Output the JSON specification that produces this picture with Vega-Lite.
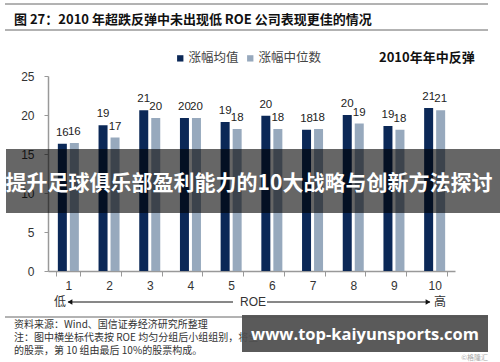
{
  "$schema": "https://vega.github.io/schema/vega-lite/v6.json",
  "width": 407,
  "height": 195,
  "autosize": {"type": "none"},
  "padding": {"left": 48, "top": 76, "right": 45, "bottom": 91},
  "background": "white",
  "config": {"view": {"stroke": null}, "font": "Liberation Sans"},
  "title": {
    "text": "图 27：2010 年超跌反弹中未出现低 ROE 公司表现更佳的情况",
    "anchor": "start",
    "frame": "group",
    "orient": "top",
    "dx": -34,
    "offset": -23,
    "fontSize": 13,
    "fontWeight": "bold",
    "font": "Noto Sans CJK SC",
    "color": "#111111"
  },
  "data": {
    "values": [
      {"group": 1, "series": "涨幅均值", "value": 16.3},
      {"group": 1, "series": "涨幅中位数", "value": 16.4},
      {"group": 2, "series": "涨幅均值", "value": 18.7},
      {"group": 2, "series": "涨幅中位数", "value": 17.1},
      {"group": 3, "series": "涨幅均值", "value": 20.6},
      {"group": 3, "series": "涨幅中位数", "value": 19.6},
      {"group": 4, "series": "涨幅均值", "value": 19.6},
      {"group": 4, "series": "涨幅中位数", "value": 19.6},
      {"group": 5, "series": "涨幅均值", "value": 19.1},
      {"group": 5, "series": "涨幅中位数", "value": 18.2},
      {"group": 6, "series": "涨幅均值", "value": 19.9},
      {"group": 6, "series": "涨幅中位数", "value": 18.2},
      {"group": 7, "series": "涨幅均值", "value": 18.1},
      {"group": 7, "series": "涨幅中位数", "value": 18.2},
      {"group": 8, "series": "涨幅均值", "value": 20.0},
      {"group": 8, "series": "涨幅中位数", "value": 18.9},
      {"group": 9, "series": "涨幅均值", "value": 18.6},
      {"group": 9, "series": "涨幅中位数", "value": 18.1},
      {"group": 10, "series": "涨幅均值", "value": 20.9},
      {"group": 10, "series": "涨幅中位数", "value": 20.6}
    ]
  },
  "layer": [
    {
      "encoding": {
        "x": {
          "field": "group",
          "type": "ordinal",
          "scale": {"paddingInner": 0.41, "paddingOuter": 0.205},
          "axis": {
            "title": null,
            "labelAngle": 0,
            "tickBand": "extent",
            "tickSize": 5,
            "tickColor": "#999999",
            "domainColor": "#999999",
            "domainWidth": 1.5,
            "labelFontSize": 12,
            "labelColor": "#333333",
            "labelPadding": 4
          }
        },
        "y": {
          "field": "value",
          "type": "quantitative",
          "scale": {"domain": [0, 25], "nice": false, "zero": true},
          "axis": {
            "title": null,
            "values": [0, 5, 10, 15, 20, 25],
            "tickCount": 6,
            "labelOverlap": false,
            "grid": false,
            "tickSize": 4,
            "tickColor": "#999999",
            "domainColor": "#999999",
            "domainWidth": 1.5,
            "labelFontSize": 12,
            "labelColor": "#333333",
            "labelPadding": 10
          }
        },
        "xOffset": {
          "field": "series",
          "type": "nominal",
          "scale": {"domain": ["涨幅均值", "涨幅中位数"], "paddingInner": 0, "paddingOuter": 0}
        }
      },
      "layer": [
        {
          "mark": {"type": "bar", "width": 9},
          "encoding": {
            "color": {
              "field": "series",
              "type": "nominal",
              "scale": {"domain": ["涨幅均值", "涨幅中位数"], "range": ["#0B2857", "#97A9BD"]},
              "legend": {
                "orient": "none",
                "legendX": 126,
                "legendY": -24,
                "direction": "horizontal",
                "title": "2010年年中反弹",
                "titleOrient": "right",
                "titleFont": "Noto Sans CJK SC",
                "titleFontSize": 13,
                "titleFontWeight": "bold",
                "titleColor": "#111111",
                "titlePadding": 58,
                "symbolType": "square",
                "symbolSize": 40,
                "symbolStrokeWidth": 0,
                "symbolOpacity": 1,
                "labelFont": "Noto Sans CJK SC",
                "labelFontSize": 12.5,
                "labelColor": "#444444",
                "labelOffset": 2,
                "columnPadding": 5
              }
            }
          }
        },
        {
          "mark": {"type": "text", "baseline": "bottom", "dy": -6, "fontSize": 11.5, "font": "Liberation Sans", "color": "#222222"},
          "encoding": {
            "text": {"field": "value", "type": "quantitative", "format": ".0f"}
          }
        }
      ]
    },
    {
      "data": {"values": [{}]},
      "mark": {"type": "rule", "color": "#666666", "strokeWidth": 1},
      "encoding": {"x": {"value": -43}, "x2": {"value": 440}, "y": {"value": -72}}
    },
    {
      "data": {"values": [{}]},
      "mark": {"type": "rule", "color": "#666666", "strokeWidth": 1},
      "encoding": {"x": {"value": -43}, "x2": {"value": 440}, "y": {"value": -46}}
    },
    {
      "data": {"values": [{}]},
      "mark": {"type": "rule", "color": "#666666", "strokeWidth": 1},
      "encoding": {"x": {"value": -43}, "x2": {"value": 440}, "y": {"value": 241}}
    },
    {
      "data": {"values": [{}]},
      "mark": {"type": "rule", "color": "#111111", "strokeWidth": 1},
      "encoding": {"x": {"value": 20}, "x2": {"value": 185}, "y": {"value": 226}}
    },
    {
      "data": {"values": [{}]},
      "mark": {"type": "rule", "color": "#111111", "strokeWidth": 1},
      "encoding": {"x": {"value": 219}, "x2": {"value": 382}, "y": {"value": 226}}
    },
    {
      "data": {"values": [{}]},
      "mark": {"type": "point", "shape": "triangle-left", "filled": true, "size": 30, "color": "#111111", "opacity": 1},
      "encoding": {"x": {"value": 22}, "y": {"value": 226}}
    },
    {
      "data": {"values": [{}]},
      "mark": {"type": "point", "shape": "triangle-right", "filled": true, "size": 30, "color": "#111111", "opacity": 1},
      "encoding": {"x": {"value": 380}, "y": {"value": 226}}
    },
    {
      "data": {"values": [{}]},
      "mark": {"type": "text", "text": "低", "font": "Noto Sans CJK SC", "fontSize": 12, "color": "#333333", "align": "center", "baseline": "middle"},
      "encoding": {"x": {"value": 12}, "y": {"value": 226}}
    },
    {
      "data": {"values": [{}]},
      "mark": {"type": "text", "text": "高", "font": "Noto Sans CJK SC", "fontSize": 12, "color": "#333333", "align": "center", "baseline": "middle"},
      "encoding": {"x": {"value": 392}, "y": {"value": 226}}
    },
    {
      "data": {"values": [{}]},
      "mark": {"type": "text", "text": "ROE", "font": "Liberation Sans", "fontSize": 12, "color": "#333333", "align": "center", "baseline": "middle"},
      "encoding": {"x": {"value": 205}, "y": {"value": 226}}
    },
    {
      "data": {"values": [{}]},
      "mark": {"type": "text", "text": "资料来源：Wind、国信证券经济研究所整理", "font": "Noto Sans CJK SC", "fontSize": 10, "color": "#333333", "align": "left", "baseline": "middle"},
      "encoding": {"x": {"value": -34}, "y": {"value": 249}}
    },
    {
      "data": {"values": [{}]},
      "mark": {"type": "text", "text": "注：图中横坐标代表按 ROE 均匀分组后小组组别，将全", "font": "Noto Sans CJK SC", "fontSize": 10, "color": "#333333", "align": "left", "baseline": "middle"},
      "encoding": {"x": {"value": -34}, "y": {"value": 262}}
    },
    {
      "data": {"values": [{}]},
      "mark": {"type": "text", "text": "的股票，第 10 组由最后 10%的股票构成。", "font": "Noto Sans CJK SC", "fontSize": 10, "color": "#333333", "align": "left", "baseline": "middle"},
      "encoding": {"x": {"value": -34}, "y": {"value": 275}}
    },
    {
      "data": {"values": [{}]},
      "mark": {"type": "text", "text": "©格隆汇", "font": "Noto Sans CJK SC", "fontSize": 7, "color": "#aaaaaa", "align": "right", "baseline": "middle"},
      "encoding": {"x": {"value": 440}, "y": {"value": 282}}
    },
    {
      "data": {"values": [{}]},
      "mark": {"type": "rect", "color": "#000000", "opacity": 0.6},
      "encoding": {"x": {"value": -42}, "x2": {"value": 460}, "y": {"value": 73}, "y2": {"value": 137}}
    },
    {
      "data": {"values": [{}]},
      "mark": {"type": "text", "text": "提升足球俱乐部盈利能力的10大战略与创新方法探讨", "font": "Noto Sans CJK SC", "fontSize": 21, "fontWeight": "bold", "color": "#ffffff", "align": "center", "baseline": "middle"},
      "encoding": {"x": {"value": 201}, "y": {"value": 108}}
    },
    {
      "data": {"values": [{}]},
      "mark": {"type": "rect", "color": "#505050", "opacity": 0.94},
      "encoding": {"x": {"value": 194}, "x2": {"value": 440}, "y": {"value": 239}, "y2": {"value": 276}}
    },
    {
      "data": {"values": [{}]},
      "mark": {"type": "text", "text": "www.top-kaiyunsports.com", "font": "Open Sans", "fontSize": 16.5, "fontWeight": "bold", "color": "#ffffff", "align": "center", "baseline": "middle"},
      "encoding": {"x": {"value": 317}, "y": {"value": 259}}
    }
  ]
}
